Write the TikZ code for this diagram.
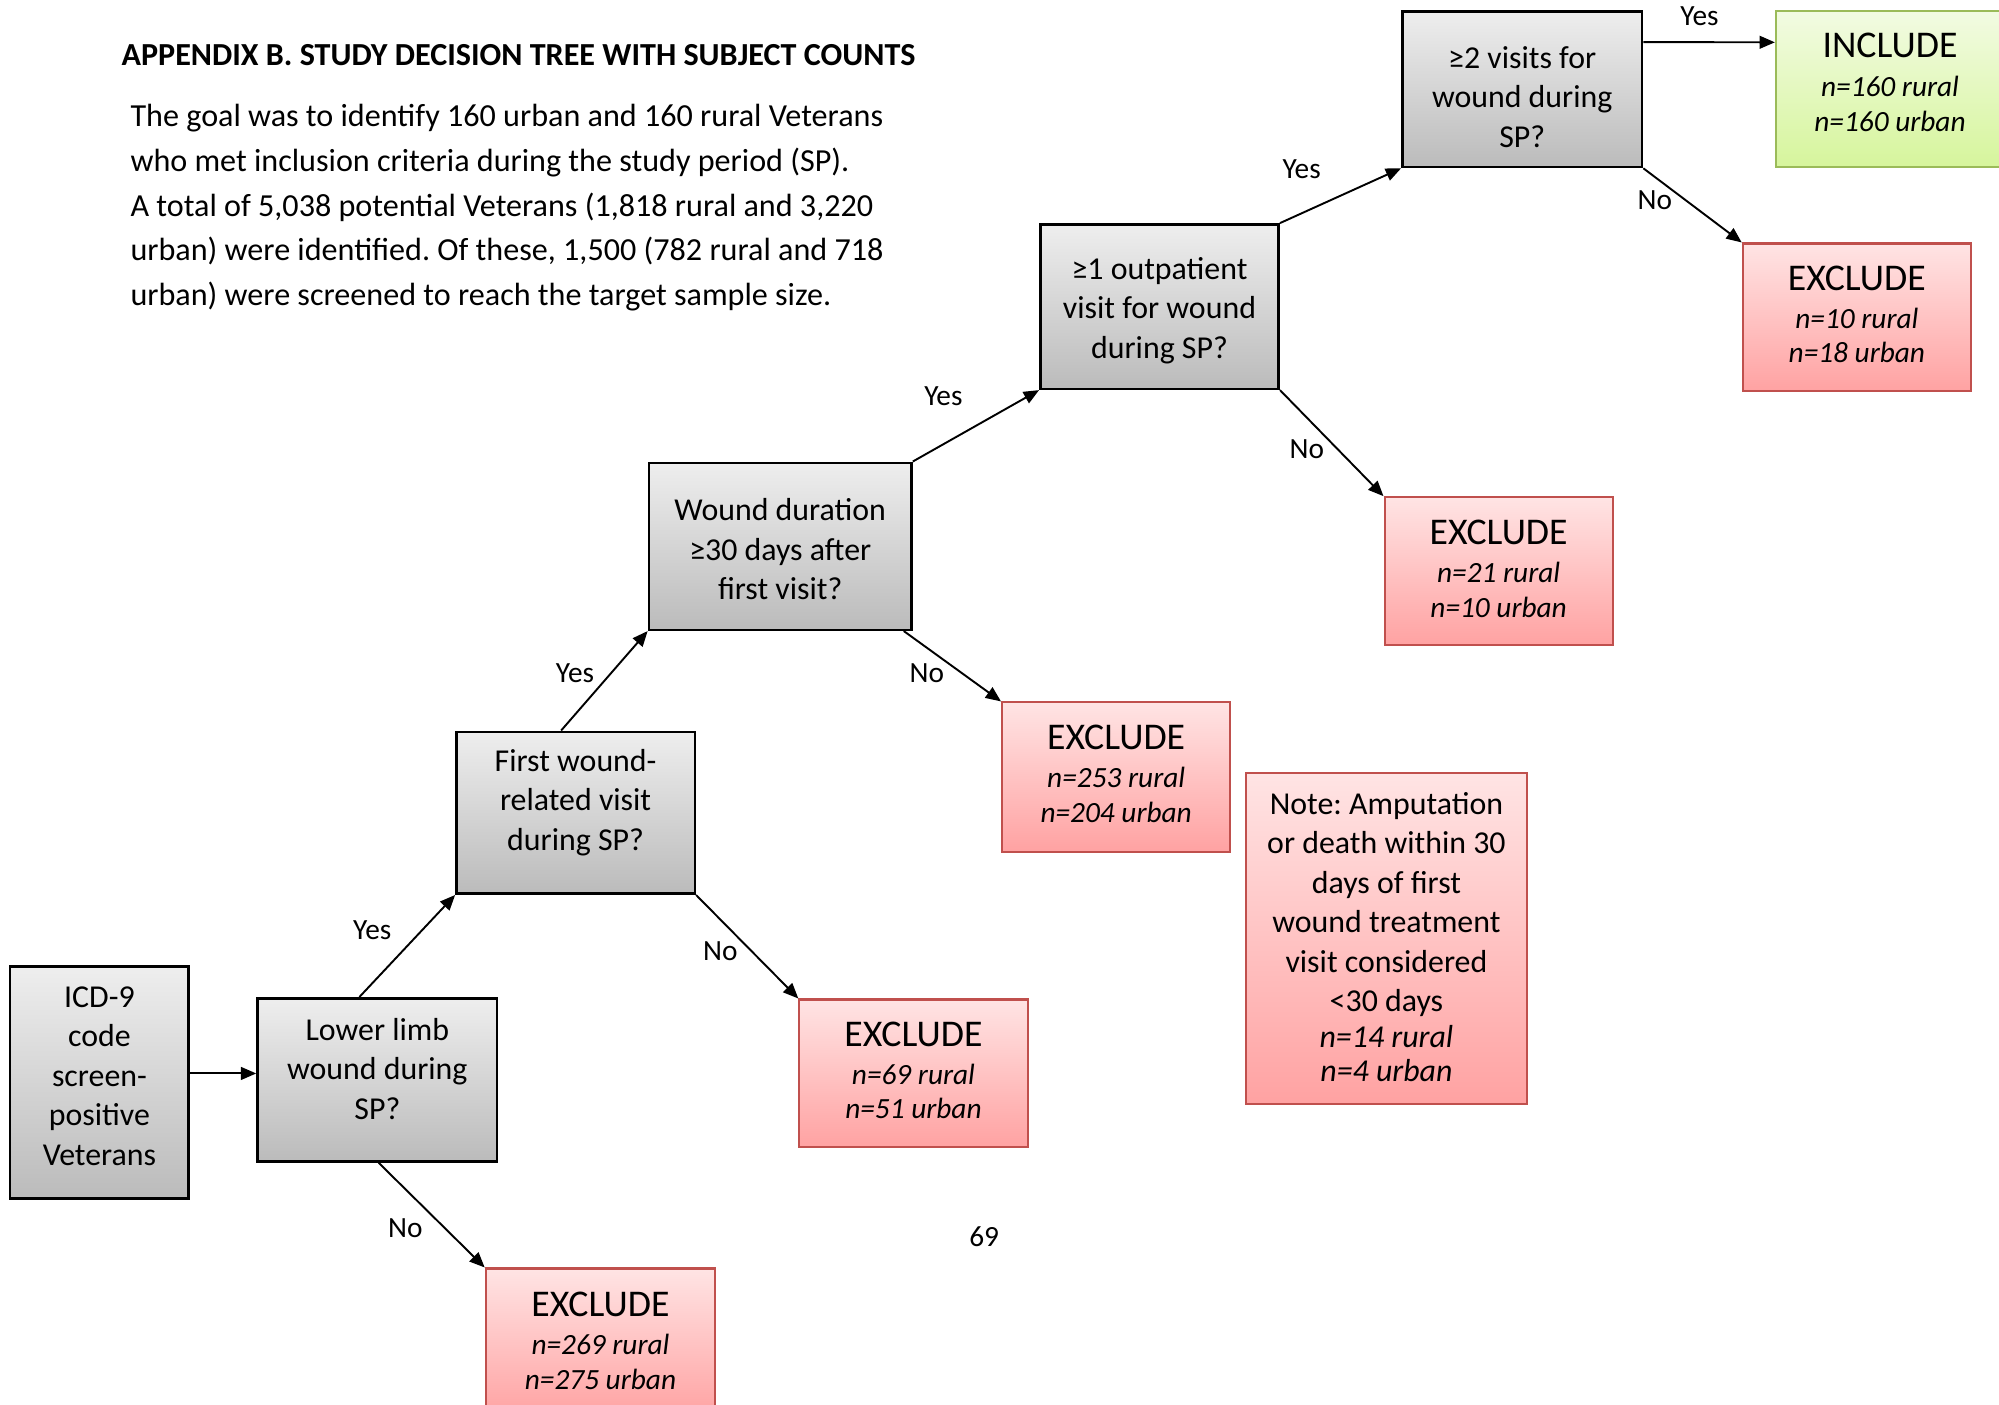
\documentclass[tikz,border=0pt]{standalone}
\usepackage{fontspec}
\setmainfont{Carlito}
\usetikzlibrary{arrows.meta,calc}
\definecolor{grayTop}{HTML}{EEEEEE}
\definecolor{grayBot}{HTML}{BBBBBB}
\definecolor{redTop}{HTML}{FFE4E4}
\definecolor{redBot}{HTML}{FFA2A2}
\definecolor{redLine}{HTML}{C0504D}
\definecolor{grnTop}{HTML}{F2FBE2}
\definecolor{grnBot}{HTML}{D6F59C}
\definecolor{grnLine}{HTML}{9BBB59}
\newcommand\hdfont{\fontsize{14.8}{14.8}\selectfont}
\begin{document}
\frenchspacing
\begin{tikzpicture}[x=0.5pt,y=-0.5pt,
  qbox/.style={draw=black, line width=1pt, top color=grayTop, bottom color=grayBot, inner sep=0pt},
  qtext/.style={align=center, inner sep=0pt, font=\fontsize{12.5}{15.5}\selectfont},
  exbox/.style={draw=redLine, line width=0.8pt, top color=redTop, bottom color=redBot, inner sep=0pt},
  incbox/.style={draw=grnLine, line width=0.8pt, top color=grnTop, bottom color=grnBot, inner sep=0pt},
  extext/.style={align=center, inner sep=0pt, font=\fontsize{11.5}{13.5}\selectfont},
  lbl/.style={font=\fontsize{11.5}{13}\selectfont, inner sep=0pt},
  conn/.style={line width=0.75pt, -{Triangle[length=6pt,width=5pt]}}
]
\useasboundingbox (0,0) rectangle (1568,1102);
\clip (0,0) rectangle (1568,1102);

% header text
\node[anchor=west, inner sep=0pt, font=\bfseries\fontsize{12.6}{14}\selectfont] (title) at (95,43)
  {APPENDIX B. STUDY DECISION TREE WITH SUBJECT COUNTS};
\node[anchor=west, inner sep=0pt, align=left, font=\fontsize{12.6}{17.5}\selectfont] (intro) at (102,163)
  {The goal was to identify 160 urban and 160 rural Veterans\\
   who met inclusion criteria during the study period (SP).\\
   A total of 5,038 potential Veterans (1,818 rural and 3,220\\
   urban) were identified. Of these, 1,500 (782 rural and 718\\
   urban) were screened to reach the target sample size.};

% question boxes
\node[qbox, minimum width=70pt, minimum height=91pt] (ICD) at (78,849) {};
\node[qtext] (ICDt) at (78,844) {ICD-9\\code\\screen-\\positive\\Veterans};
\node[qbox, minimum width=94pt, minimum height=64pt] (LL) at (296,847) {};
\node[qtext] (LLt) at (296,838.5) {Lower limb\\wound during\\SP?};
\node[qbox, minimum width=93.5pt, minimum height=63.5pt] (FW) at (451.5,637.5) {};
\node[qtext] (FWt) at (451.5,629.5) {First wound-\\related visit\\during SP?};
\node[qbox, minimum width=103pt, minimum height=65.5pt] (WD) at (612,428.5) {};
\node[qtext] (WDt) at (612,431) {Wound duration\\≥30 days after\\first visit?};
\node[qbox, minimum width=93.5pt, minimum height=64.5pt] (OP) at (909.5,240.5) {};
\node[qtext] (OPt) at (909.5,243.5) {≥1 outpatient\\visit for wound\\during SP?};
\node[qbox, minimum width=94pt, minimum height=61pt] (TV) at (1194,70) {};
\node[qtext] (TVt) at (1194,76) {≥2 visits for\\wound during\\SP?};

% outcome boxes
\node[incbox, minimum width=89.5pt, minimum height=61pt] (INC) at (1482.5,70) {};
\node[extext] (INCt) at (1482.5,64.5)
  {{\hdfont INCLUDE}\\[2pt]\textit{n=160 rural}\\\textit{n=160 urban}};
\node[exbox, minimum width=89.5pt, minimum height=58pt] (EX5) at (1456.5,249) {};
\node[extext] (EX5t) at (1456.5,246.5)
  {{\hdfont EXCLUDE}\\[1.5pt]\textit{n=10 rural}\\\textit{n=18 urban}};
\node[exbox, minimum width=89.5pt, minimum height=58pt] (EX4) at (1175.5,448) {};
\node[extext] (EX4t) at (1175.5,446)
  {{\hdfont EXCLUDE}\\[1.5pt]\textit{n=21 rural}\\\textit{n=10 urban}};
\node[exbox, minimum width=89.5pt, minimum height=58.5pt] (EX3) at (875.5,609.5) {};
\node[extext] (EX3t) at (875.5,607)
  {{\hdfont EXCLUDE}\\[1.5pt]\textit{n=253 rural}\\\textit{n=204 urban}};
\node[exbox, minimum width=89.5pt, minimum height=58pt] (EX2) at (716.5,842) {};
\node[extext] (EX2t) at (716.5,839.5)
  {{\hdfont EXCLUDE}\\[1.5pt]\textit{n=69 rural}\\\textit{n=51 urban}};
\node[exbox, minimum width=90pt, minimum height=58.5pt] (EX1) at (471,1053.5) {};
\node[extext] (EX1t) at (471,1051.5)
  {{\hdfont EXCLUDE}\\[1.5pt]\textit{n=269 rural}\\\textit{n=275 urban}};
\node[exbox, minimum width=110.5pt, minimum height=130pt] (NOTE) at (1087.5,736) {};
\node[qtext] (NOTEt) at (1087.5,735)
  {Note: Amputation\\or death within 30\\days of first\\wound treatment\\visit considered\\<30 days\\[-1.5pt]
   \textit{n=14 rural}\\[-2pt]\textit{n=4 urban}};

% connectors
\draw[conn] ($(ICD.east)+(0,-7)$) coordinate (a1) -- (a1 -| LL.west);
\draw[conn] ($(LL.north west)!0.426!(LL.north east)$) -- (FW.south west);
\draw[conn] ($(LL.south west)!0.505!(LL.south east)$) -- (EX1.north west);
\draw[conn] ($(FW.north west)!0.44!(FW.north east)$) -- (WD.south west);
\draw[conn] (FW.south east) -- (EX2.north west);
\draw[conn] (WD.north east) -- (OP.south west);
\draw[conn] ($(WD.south west)!0.966!(WD.south east)$) -- (EX3.north west);
\draw[conn] (OP.north east) -- (TV.south west);
\draw[conn] (OP.south east) -- (EX4.north west);
\draw[conn] ($(TV.north east)+(0,25)$) -- ($(INC.north west)+(0,25)$);
\draw[conn] (TV.south east) -- (EX5.north west);

% branch labels
\node[lbl] (y1) at (292,730) {Yes};
\node[lbl] (n1) at (318,963) {No};
\node[lbl] (y2) at (451,528) {Yes};
\node[lbl] (n2) at (565,746) {No};
\node[lbl] (y3) at (740,311) {Yes};
\node[lbl] (n3) at (727,528) {No};
\node[lbl] (y4) at (1021,133) {Yes};
\node[lbl] (n4) at (1025,352) {No};
\node[lbl] (y5) at (1333,13) {Yes};
\node[lbl] (n5) at (1298,157) {No};

% page number
\node[lbl] (page) at (772,970) {69};
\end{tikzpicture}
\end{document}
